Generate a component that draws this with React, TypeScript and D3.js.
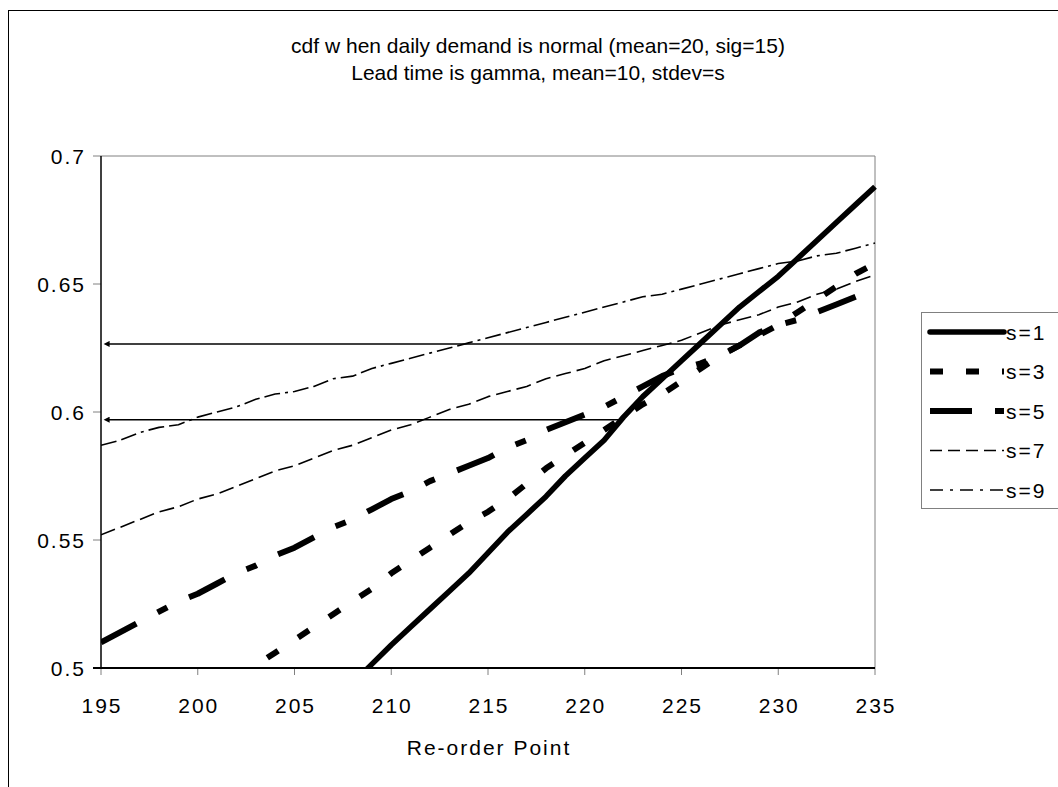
import * as d3 from 'd3';

// re-order points on the x axis
const reorderPoint = [
  195, 196, 197, 198, 199, 200, 201, 202, 203, 204, 205, 206, 207, 208,
  209, 210, 211, 212, 213, 214, 215, 216, 217, 218, 219, 220, 221, 222,
  223, 224, 225, 226, 227, 228, 229, 230, 231, 232, 233, 234, 235,
];

// cdf values, one per re-order point (null = not drawn)
const s1 = [
  null, null, null, null, null, null, null, null, null, null, null, null, null, 0.494,
  0.5015, 0.509, 0.516, 0.523, 0.53, 0.537, 0.545, 0.553, 0.56, 0.567, 0.575, 0.582, 0.589, 0.598,
  0.606, 0.613, 0.62, 0.627, 0.634, 0.641, 0.647, 0.653, 0.66, 0.667, 0.674, 0.681, 0.688,
];
const s3 = [
  null, null, null, null, null, null, null, 0.496, 0.501, 0.506, 0.511, 0.516, 0.521, 0.526,
  0.531, 0.537, 0.542, 0.547, 0.552, 0.557, 0.561, 0.566, 0.572, 0.578, 0.583, 0.588, 0.593, 0.598,
  0.603, 0.607, 0.612, 0.617, 0.622, 0.626, 0.63, 0.634, 0.639, 0.644, 0.649, 0.654, 0.658,
];
const s5 = [
  0.51, 0.514, 0.518, 0.522, 0.526, 0.529, 0.533, 0.537, 0.54, 0.544, 0.547, 0.551, 0.555, 0.558,
  0.562, 0.566, 0.569, 0.573, 0.576, 0.579, 0.582, 0.586, 0.589, 0.593, 0.596, 0.599, 0.602, 0.606,
  0.61, 0.614, 0.617, 0.619, 0.622, 0.626, 0.631, 0.634, 0.636, 0.639, 0.642, 0.645, 0.648,
];
const s7 = [
  0.552, 0.555, 0.558, 0.561, 0.563, 0.566, 0.568, 0.571, 0.574, 0.577, 0.579, 0.582, 0.585, 0.587,
  0.59, 0.593, 0.595, 0.598, 0.601, 0.603, 0.606, 0.608, 0.61, 0.613, 0.615, 0.617, 0.62, 0.622,
  0.624, 0.626, 0.628, 0.631, 0.634, 0.636, 0.638, 0.641, 0.643, 0.646, 0.648, 0.651, 0.6535,
];
const s9 = [
  0.587, 0.589, 0.592, 0.594, 0.595, 0.598, 0.6, 0.602, 0.605, 0.607, 0.608, 0.61, 0.613, 0.614,
  0.617, 0.619, 0.621, 0.623, 0.625, 0.627, 0.629, 0.631, 0.633, 0.635, 0.637, 0.639, 0.641, 0.643,
  0.645, 0.646, 0.648, 0.65, 0.652, 0.654, 0.656, 0.658, 0.659, 0.661, 0.662, 0.664, 0.666,
];

const seriesNames = ['s=1', 's=3', 's=5', 's=7', 's=9'];
const seriesValues = [s1, s3, s5, s7, s9];

// the two read-off arrows: level and the x where they start
const arrowLevels = [0.6266, 0.597];
const arrowFrom = [228, 221.8];

const xTicks = [195, 200, 205, 210, 215, 220, 225, 230, 235];
const yTicks = [0.5, 0.55, 0.6, 0.65, 0.7];

const titleLines = [
  'cdf w hen daily demand is normal (mean=20, sig=15)',
  'Lead time is gamma, mean=10, stdev=s',
];

// plot dash vs legend dash (excel draws the legend sample with its own phase)
const styles = [
  { width: 5.5, dash: null, legendDash: null },
  { width: 6, dash: '13,24', legendDash: '13,23' },
  { width: 6, dash: '40,24,11,24', legendDash: '42,23,9,23' },
  { width: 1.6, dash: '15,6', legendDash: '12,6' },
  { width: 1.6, dash: '16,5,16,5,3,5', legendDash: '13,7,3,7' },
];

const W = 1058;
const H = 787;
const plot = { left: 101, right: 875, top: 156, bottom: 668 };
const font = '"Liberation Sans", Arial, sans-serif';
const labelSpacing = 2;

export default function App() {
  const x = d3.scaleLinear().domain([195, 235]).range([plot.left, plot.right]);
  const y = d3.scaleLinear().domain([0.5, 0.7]).range([plot.bottom, plot.top]);

  const line = d3
    .line<[number, number | null]>()
    .defined((d) => d[1] != null)
    .x((d) => x(d[0]))
    .y((d) => y(d[1] as number));

  const legendTop = 312;
  const legendStep = 39.5;

  return (
    <svg
      width={W}
      height={H}
      style={{ position: 'absolute', left: 0, top: 0, background: '#fff' }}
      fontFamily={font}
    >
      <defs>
        <clipPath id="plotClip">
          <rect x={plot.left} y={plot.top - 4} width={plot.right - plot.left + 4} height={plot.bottom - plot.top + 4} />
        </clipPath>
        <marker id="arrowHead" viewBox="0 0 10 10" refX="1" refY="5" markerWidth="8" markerHeight="6" orient="auto-start-reverse" markerUnits="userSpaceOnUse">
          <path d="M0,0 L10,5 L0,10 z" fill="#000" />
        </marker>
      </defs>

      {/* outer chart border */}
      <rect x={8.5} y={10.5} width={1070} height={820} fill="#fff" stroke="#000" strokeWidth={1} />

      {/* title */}
      {titleLines.map((t, i) => (
        <text key={i} x={538} y={53 + i * 27} textAnchor="middle" fontSize={21} fill="#000">
          {t}
        </text>
      ))}

      {/* plot frame: top and right gray */}
      <line x1={plot.left} x2={plot.right} y1={plot.top} y2={plot.top} stroke="#808080" strokeWidth={1} />
      <line x1={plot.right} x2={plot.right} y1={plot.top} y2={plot.bottom} stroke="#808080" strokeWidth={1} />

      {/* y ticks */}
      {yTicks.map((t) => (
        <g key={t}>
          <line x1={plot.left - 8} x2={plot.left} y1={y(t)} y2={y(t)} stroke="#808080" strokeWidth={1} />
          <text x={84 + labelSpacing} y={y(t) + 7.5} textAnchor="end" fontSize={21} letterSpacing={labelSpacing} fill="#000">
            {String(t)}
          </text>
        </g>
      ))}

      {/* x ticks */}
      {xTicks.map((t) => (
        <g key={t}>
          <line x1={x(t)} x2={x(t)} y1={plot.bottom} y2={plot.bottom + 7} stroke="#808080" strokeWidth={1} />
          <text x={x(t) + labelSpacing / 2} y={713} textAnchor="middle" fontSize={21} letterSpacing={labelSpacing} fill="#000">
            {t}
          </text>
        </g>
      ))}
      <text x={488 + labelSpacing / 2} y={755} textAnchor="middle" fontSize={21} letterSpacing={labelSpacing} fill="#000">
        Re-order Point
      </text>

      {/* series */}
      <g clipPath="url(#plotClip)">
        {seriesValues.map((vals, i) => (
          <path
            key={seriesNames[i]}
            d={line(reorderPoint.map((p, j) => [p, vals[j]] as [number, number | null])) || ''}
            fill="none"
            stroke="#000"
            strokeWidth={styles[i].width}
            strokeDasharray={styles[i].dash || undefined}
            strokeLinejoin="round"
          />
        ))}
      </g>

      {/* arrows */}
      {arrowLevels.map((lv, i) => (
        <line
          key={i}
          x1={x(arrowFrom[i])}
          x2={plot.left + 8}
          y1={y(lv)}
          y2={y(lv)}
          stroke="#000"
          strokeWidth={1.5}
          markerEnd="url(#arrowHead)"
        />
      ))}

      {/* axes */}
      <line x1={plot.left} x2={plot.left} y1={plot.top} y2={plot.bottom} stroke="#000" strokeWidth={1.5} />
      <line x1={plot.left - 8} x2={plot.right} y1={plot.bottom} y2={plot.bottom} stroke="#000" strokeWidth={2} />

      {/* legend */}
      <rect x={921.5} y={legendTop + 0.5} width={150} height={196} fill="#fff" stroke="#808080" strokeWidth={1} />
      {seriesNames.map((n, i) => {
        const ly = legendTop + 20 + i * legendStep;
        return (
          <g key={n}>
            <line
              x1={930}
              x2={1004}
              y1={ly}
              y2={ly}
              stroke="#000"
              strokeWidth={styles[i].width}
              strokeDasharray={styles[i].legendDash || undefined}
              strokeLinecap={i === 0 ? 'round' : 'butt'}
            />
            <text x={1006} y={ly + 7.5} fontSize={21} letterSpacing={labelSpacing} fill="#000">
              {n}
            </text>
          </g>
        );
      })}
    </svg>
  );
}
